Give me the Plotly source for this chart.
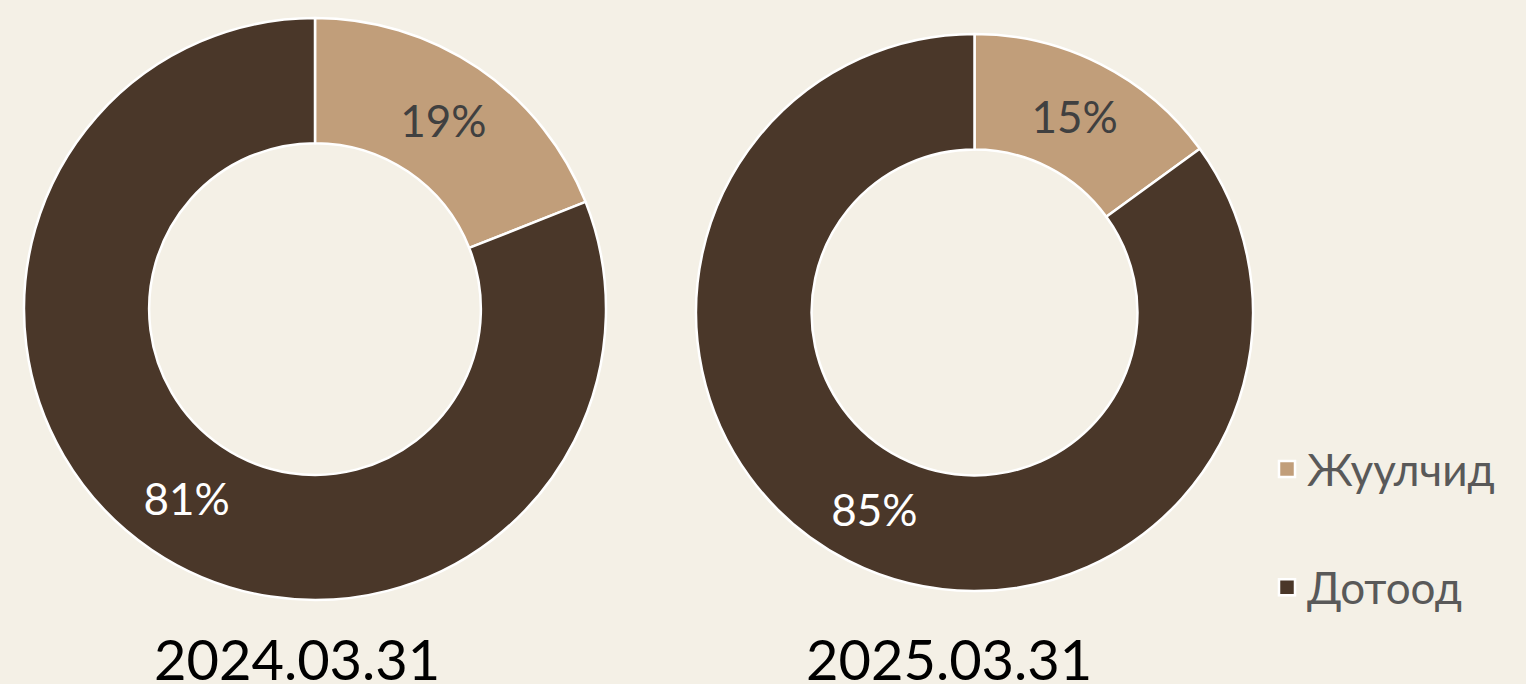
import plotly.graph_objects as go

labels = ["Жуулчид", "Дотоод"]
values_2024 = [19, 81]
values_2025 = [15, 85]
titles = ["2024.03.31", "2025.03.31"]

W, H = 1526, 684
BG = "#F4F0E6"
COLORS = ["#C19E7A", "#4A3729"]
FONT = "Lato"

fig = go.Figure()
pie_specs = [
    (values_2024, 0.57, dict(x=[24 / W, 606 / W], y=[84 / H, 666 / H])),
    (values_2025, 0.585, dict(x=[696 / W, 1253 / W], y=[92 / H, 651 / H])),
]
for vals, hole, dom in pie_specs:
    fig.add_trace(go.Pie(
        labels=labels, values=vals, hole=hole, sort=False,
        direction="clockwise", rotation=0,
        marker=dict(colors=COLORS, line=dict(color="white", width=2.5)),
        texttemplate="%{percent:.0%}", textposition="inside",
        insidetextorientation="horizontal",
        insidetextfont=dict(color=["#404040", "#FFFFFF"], size=44, family=FONT),
        domain=dom, showlegend=False,
    ))

# legend entries (square markers)
for lab, col, grp in zip(labels, COLORS, ["g1", "g2"]):
    fig.add_trace(go.Scatter(
        x=[None], y=[None], mode="markers", name=lab, legendgroup=grp,
        marker=dict(symbol="square", size=18, color=col,
                    line=dict(color="white", width=2.5)),
        showlegend=True, hoverinfo="skip",
    ))

for t, xc in zip(titles, [297 / W, 949 / W]):
    fig.add_annotation(text=t, x=xc, y=-10 / H, xref="paper", yref="paper",
                       xanchor="center", yanchor="bottom", showarrow=False,
                       font=dict(size=56, color="#000000", family=FONT))

fig.update_layout(
    width=W, height=H, paper_bgcolor=BG, plot_bgcolor=BG,
    margin=dict(l=0, r=0, t=0, b=0),
    font=dict(family=FONT),
    xaxis=dict(visible=False), yaxis=dict(visible=False),
    legend=dict(x=1267 / W, y=(H - 434) / H, xanchor="left", yanchor="top",
                font=dict(size=44, color="#595959", family=FONT),
                itemsizing="trace", traceorder="grouped", tracegroupgap=58,
                bgcolor="rgba(0,0,0,0)"),
)

fig.write_html("out.html", config={"displayModeBar": False},
               post_script="document.body.style.margin='0';document.body.style.overflow='hidden';")
